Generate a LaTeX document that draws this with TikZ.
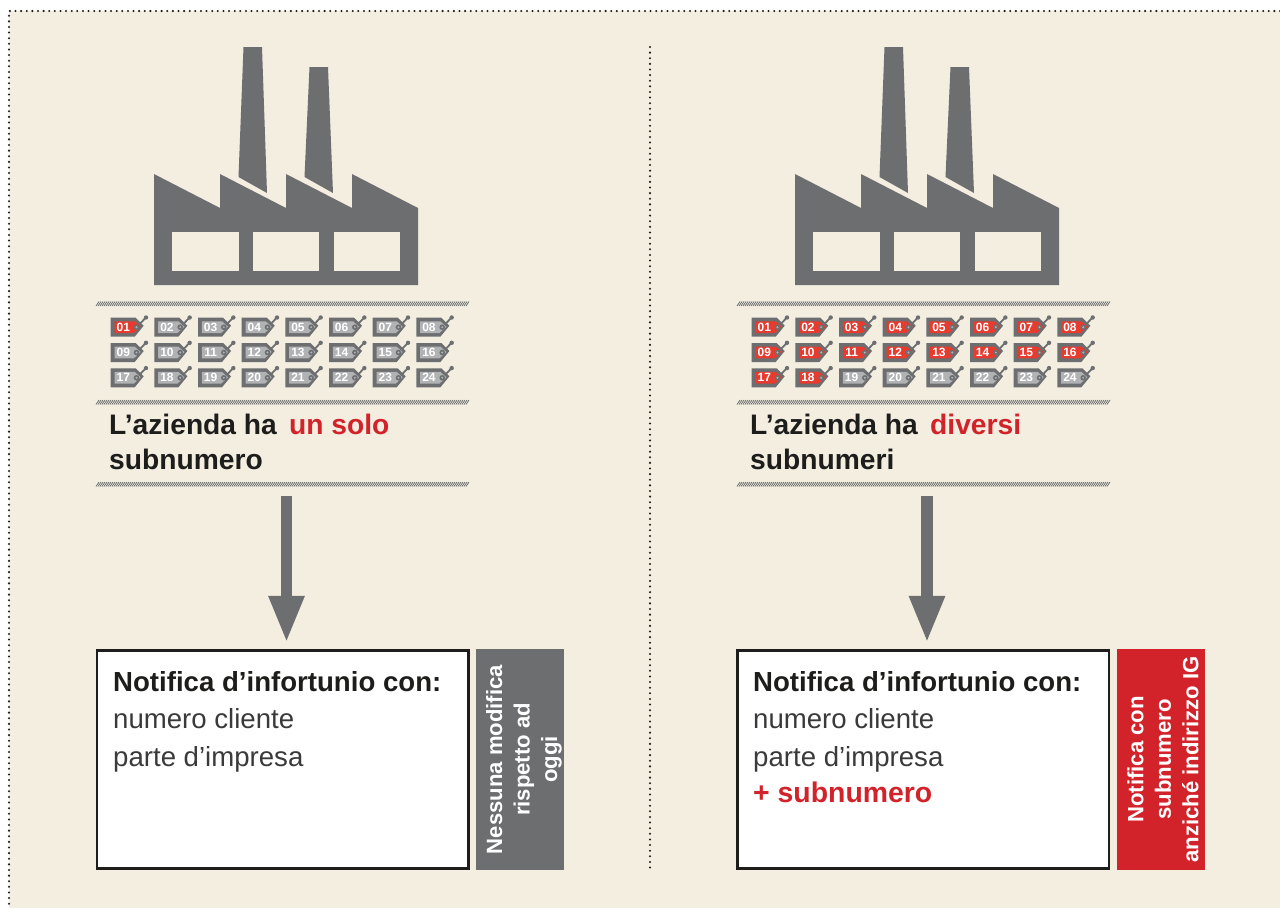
\documentclass[tikz,border=0pt]{standalone}
\usepackage{fontspec}
\setmainfont{Liberation Sans}
\usetikzlibrary{arrows.meta}
\definecolor{bgc}{HTML}{F4EEE1}
\definecolor{greyc}{HTML}{6C6E70}
\definecolor{redc}{HTML}{D2232A}
\definecolor{tagred}{HTML}{E63B2E}
\definecolor{taglight}{HTML}{B1B2B4}
\definecolor{inkc}{HTML}{1D1D1B}
\definecolor{bodyc}{HTML}{3A3A3A}
\tikzset{
  frameline/.style={inkc,line width=2.3pt,line cap=round,dash pattern=on 0pt off 5.62pt},
  hatchline/.style={greyc,line width=0.8pt},
  headtxt/.style={anchor=base west,inner sep=0pt,font=\fontsize{28.2}{30}\selectfont\bfseries,text=inkc},
  boldtxt/.style={anchor=base west,inner sep=0pt,font=\fontsize{27.6}{30}\selectfont\bfseries,text=inkc},
  bodytxt/.style={anchor=base west,inner sep=0pt,font=\fontsize{27.6}{30}\selectfont,text=bodyc},
  notebox/.style={draw=inkc,fill=white,line width=2.4pt,minimum width=371.5pt,minimum height=218pt,anchor=north west,inner sep=0pt,outer sep=0pt},
  sidebox/.style={draw=none,minimum width=88pt,minimum height=221pt,inner sep=0pt,outer sep=0pt,anchor=north west},
  sidetxt/.style={rotate=90,text=white,align=center,inner sep=0pt,font=\fontsize{22.1}{27.5}\selectfont\bfseries},
  bigarrow/.style={greyc,line width=11.4pt,-{Triangle[length=47pt 0 0,width=33pt 0 0]},shorten >=7.5pt},
  tagnum/.style={text=white,inner sep=0pt,font=\fontsize{12}{12}\selectfont\bfseries},
}
\newcommand{\factoryat}[1]{%
  \begin{scope}[shift={(#1,0)}]
    \fill[greyc] (243.5,47)--(262,47)--(267,193)--(238.5,177)--cycle;
    \fill[greyc] (309.5,67)--(328,67)--(333,193)--(304.5,177)--cycle;
    \fill[greyc] (154,174)--(220,208)--(220,174)--(286,208)--(286,174)--(352,208)--(352,174)--(418,208)--(418,285)--(154,285)--cycle;
    \fill[bgc] (172,232) rectangle (239,271);
    \fill[bgc] (253,232) rectangle (319,271);
    \fill[bgc] (334,232) rectangle (400,271);
  \end{scope}}
\newcommand{\hatchband}[2]{%
  \foreach \hx in {0,2,...,370}{\draw[hatchline] (#1+\hx,#2+4.5)--(#1+\hx+3,#2);}}
\newcommand{\tagset}[3]{%
  \foreach \n in {1,...,24}{%
    \pgfmathtruncatemacro{\tcol}{mod(\n-1,8)}%
    \pgfmathtruncatemacro{\trow}{(\n-1)/8}%
    \pgfmathsetmacro{\tx}{#1+43.67*\tcol}%
    \pgfmathsetmacro{\ty}{317.7+25.3*\trow}%
    \ifnum\n>#2\relax\def\tcl{taglight}\else\def\tcl{tagred}\fi
    \begin{scope}[shift={(\tx,\ty)}]
      \draw[greyc,line width=1.8pt] (26,9.5)--(34.5,0.5);
      \fill[greyc] (35.3,-0.2) circle (2.2);
      \fill[greyc] (0,0)--(25,0)--(33,8)--(24,19)--(0,19)--cycle;
      \fill[\tcl] (3.8,3.6)--(24,3.6)--(30,9)--(23,15.4)--(3.8,15.4)--cycle;
      \fill[greyc] (25.8,9.5) circle (2.8);
      \fill[taglight] (25.8,9.5) circle (1.1);
      \node[tagnum] (#3\n) at (12.6,9.5) {\ifnum\n<10 0\fi\n};
    \end{scope}}}
\begin{document}
\begin{tikzpicture}[x=1pt,y=-1pt]
\useasboundingbox (0,0) rectangle (1280,908);
\fill[white] (0,0) rectangle (1280,908);
\fill[bgc] (9,11) rectangle (1280,908);
\draw[frameline] (1280,11)--(9,11)--(9,908);
\draw[frameline] (650,47)--(650,869);
% left column
\factoryat{0}
\hatchband{96}{301.5}
\tagset{110.7}{1}{a}
\hatchband{96}{400}
\node[headtxt] (lh1) at (109,434) {L’azienda ha\hspace{4.5pt} \textcolor{redc}{un solo}};
\node[headtxt] (lh2) at (109,469) {subnumero};
\hatchband{96}{482}
\node[notebox] (lbox) at (97,650.3) {};
\coordinate (lstart) at (286.5,496);
\draw[bigarrow] (lstart)--(lstart|-lbox.north);
\node[boldtxt] (lb1) at (113,691.5) {Notifica d’infortunio con:};
\node[bodytxt] (lb2) at (113,728) {numero cliente};
\node[bodytxt] (lb3) at (113,766) {parte d’impresa};
\node[sidebox,fill=greyc] (lside) at (476,649) {};
\node[sidetxt] (lsidet) at ([xshift=4pt]lside.center) {Nessuna modifica\\rispetto ad\\oggi};
% right column
\factoryat{641}
\hatchband{737}{301.5}
\tagset{751.7}{18}{b}
\hatchband{737}{400}
\node[headtxt] (rh1) at (750,434) {L’azienda ha\hspace{4.5pt} \textcolor{redc}{diversi}};
\node[headtxt] (rh2) at (750,469) {subnumeri};
\hatchband{737}{482}
\node[notebox] (rbox) at (737.5,650.3) {};
\coordinate (rstart) at (927,496);
\draw[bigarrow] (rstart)--(rstart|-rbox.north);
\node[boldtxt] (rb1) at (753,691.5) {Notifica d’infortunio con:};
\node[bodytxt] (rb2) at (753,728) {numero cliente};
\node[bodytxt] (rb3) at (753,766) {parte d’impresa};
\node[boldtxt,text=redc,font=\fontsize{28.4}{30}\selectfont\bfseries] (rb4) at (753,802.5) {+ subnumero};
\node[sidebox,fill=redc] (rside) at (1117,649) {};
\node[sidetxt] (rsidet) at ([xshift=2pt]rside.center) {Notifica con\\subnumero\\anziché indirizzo IG};
\end{tikzpicture}
\end{document}
